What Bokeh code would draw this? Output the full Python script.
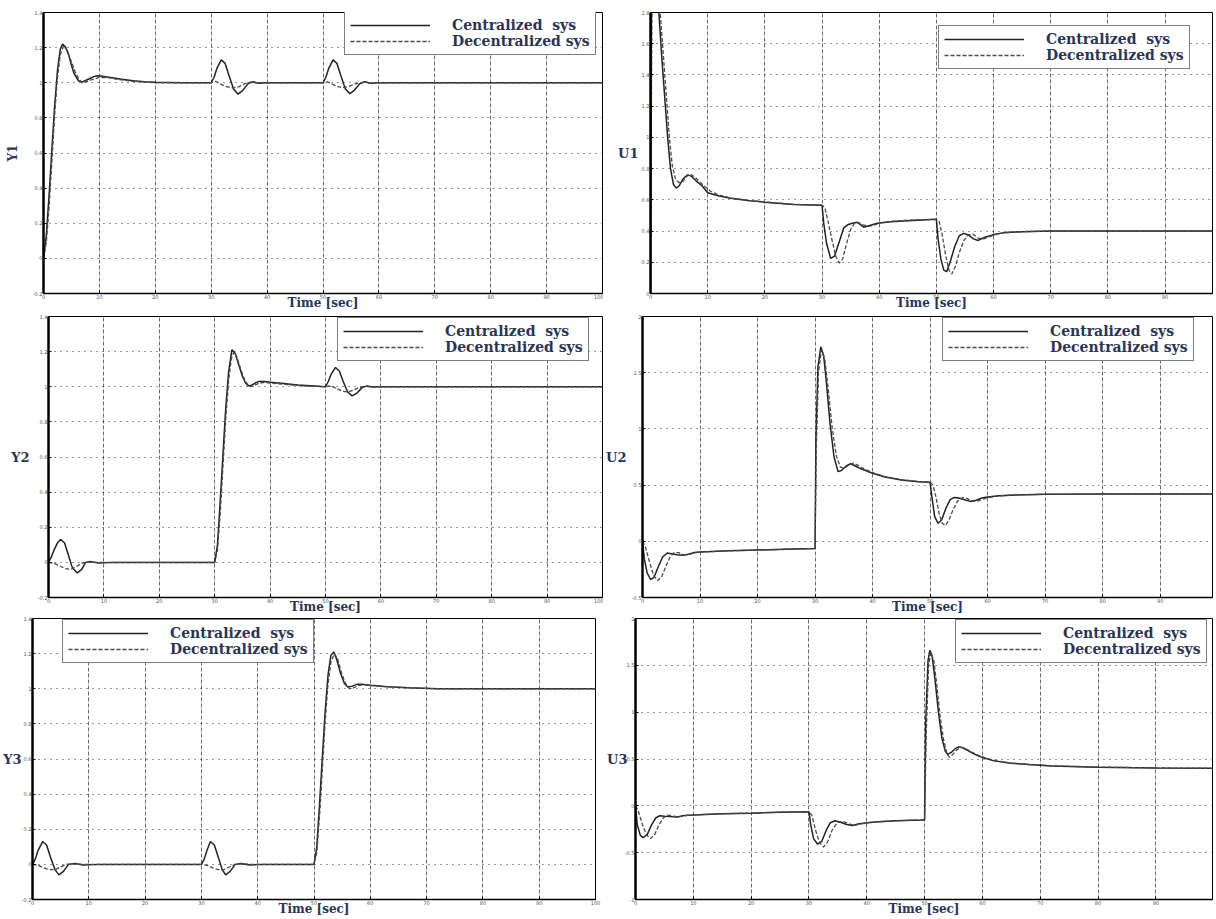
import math
from bokeh.plotting import figure
from bokeh.layouts import column, row
from bokeh.models import FixedTicker, LinearAxis, Legend, LegendItem, Range1d
from bokeh.embed import file_html
from bokeh.resources import INLINE

# ---------------- data ----------------
x_ticks = [0, 10, 20, 30, 40, 50, 60, 70, 80, 90, 100]
x_tick_labels = ["0", "10", "20", "30", "40", "50", "60", "70", "80", "90", "100"]

y_ticks_Y = [-0.2, 0, 0.2, 0.4, 0.6, 0.8, 1, 1.2, 1.4]
y_labels_Y = ["-0.2", "0", "0.2", "0.4", "0.6", "0.8", "1", "1.2", "1.4"]
y_ticks_U1 = [0, 0.2, 0.4, 0.6, 0.8, 1, 1.2, 1.4, 1.6, 1.8]
y_labels_U1 = ["0", "0.2", "0.4", "0.6", "0.8", "1", "1.2", "1.4", "1.6", "1.8"]
y_ticks_U2 = [-0.5, 0, 0.5, 1, 1.5, 2]
y_labels_U2 = ["-0.5", "0", "0.5", "1", "1.5", "2"]
y_ticks_U3 = [-1, -0.5, 0, 0.5, 1, 1.5, 2]
y_labels_U3 = ["-1", "-0.5", "0", "0.5", "1", "1.5", "2"]

legend_labels = ["Centralized  sys", "Decentralized sys"]
time_label = "Time [sec]"
panel_names = ["Y1", "U1", "Y2", "U2", "Y3", "U3"]

# Y1
t_y1_cen = [0, 0.5, 1, 1.5, 2, 2.5, 3, 3.4, 4, 4.5, 5, 5.5, 6.3, 7, 8, 9, 9.6, 10.5, 12, 14, 16, 18, 20, 25, 30,
            30.5, 31, 31.8, 32.5, 33.2, 34, 34.8, 35.6, 36.6, 37.5, 38.5, 40, 50,
            50.5, 51, 51.8, 52.5, 53.2, 54, 54.8, 55.6, 56.6, 57.5, 58.5, 60, 100]
y1_cen = [0, 0.13, 0.36, 0.62, 0.87, 1.07, 1.19, 1.22, 1.2, 1.16, 1.1, 1.05, 1.01, 1.005, 1.02, 1.035, 1.04, 1.037,
          1.03, 1.02, 1.012, 1.006, 1.003, 1.0, 1.0,
          1.03, 1.08, 1.13, 1.11, 1.04, 0.965, 0.935, 0.955, 0.995, 1.006, 0.997, 1.0, 1.0,
          1.03, 1.08, 1.13, 1.11, 1.04, 0.965, 0.938, 0.957, 0.995, 1.006, 0.997, 1.0, 1.0]
t_y1_dec = [0, 0.5, 1, 1.5, 2, 2.5, 3, 3.6, 4.1, 5, 5.8, 6.8, 7.5, 8.5, 10, 11.5, 13, 16, 20, 30,
            30.8, 31.5, 32.5, 33.9, 35, 36, 37, 38, 50,
            50.8, 51.5, 52.5, 53.5, 54.5, 55.5, 56.5, 57.5, 58.5, 60, 100]
y1_dec = [0, 0.09, 0.29, 0.55, 0.82, 1.03, 1.16, 1.21, 1.19, 1.12, 1.05, 1.0, 1.003, 1.016, 1.03, 1.03, 1.02, 1.008,
          1.0, 1.0,
          1.008, 0.995, 0.98, 0.97, 0.978, 0.995, 1.004, 1.0, 1.0,
          1.005, 0.995, 0.98, 0.972, 0.978, 0.99, 1.0, 1.004, 0.998, 1.0, 1.0]

# Y2
t_y2_cen = [0, 0.5, 1, 1.6, 2.2, 2.9, 3.6, 4.3, 5.2, 6, 6.7, 7.5, 9, 12, 30,
            30.5, 31, 31.5, 32, 32.5, 33.1, 33.7, 34.3, 35, 35.6, 36.1, 36.8, 37.5, 38, 39, 40, 42, 45, 48, 50,
            50.5, 51, 51.8, 52.5, 53.2, 54, 54.8, 55.6, 56.6, 57.5, 58.5, 60, 100]
y2_cen = [0, 0.03, 0.07, 0.11, 0.13, 0.11, 0.04, -0.03, -0.06, -0.04, 0.0, 0.005, -0.003, 0.0, 0.0,
          0.1, 0.35, 0.62, 0.88, 1.08, 1.21, 1.19, 1.13, 1.06, 1.02, 1.005, 1.01, 1.025, 1.03, 1.03, 1.025, 1.02,
          1.01, 1.004, 1.0,
          1.03, 1.07, 1.11, 1.09, 1.03, 0.97, 0.948, 0.962, 0.995, 1.005, 0.998, 1.0, 1.0]
t_y2_dec = [0, 1, 2, 3, 4, 5, 6, 7, 8, 30,
            30.5, 31, 31.5, 32, 32.5, 33, 33.5, 34, 34.7, 35.4, 36.2, 37, 38, 39, 40.5, 43, 46, 50,
            51, 52, 53, 54, 55, 56, 57, 58, 100]
y2_dec = [0, -0.005, -0.02, -0.035, -0.04, -0.025, -0.005, 0.003, 0.0, 0.0,
          0.07, 0.28, 0.55, 0.82, 1.03, 1.16, 1.2, 1.17, 1.1, 1.04, 1.0, 1.005, 1.02, 1.025, 1.02, 1.012, 1.005, 1.0,
          1.005, 0.99, 0.975, 0.97, 0.98, 0.995, 1.003, 1.0, 1.0]

# Y3
t_y3_cen = [0, 0.5, 1, 1.8, 2.5, 3.2, 4, 4.7, 5.5, 6.4, 7.5, 9, 12, 30,
            30.5, 31, 31.6, 32.3, 33, 33.7, 34.3, 35.1, 36, 37, 38.5, 41, 50,
            50.5, 51, 51.5, 52, 52.5, 53, 53.5, 54, 54.7, 55.4, 56, 56.8, 57.6, 58.5, 60, 63, 67, 72, 100]
y3_cen = [0, 0.03, 0.08, 0.13, 0.11, 0.04, -0.03, -0.06, -0.04, 0.0, 0.005, -0.003, 0.0, 0.0,
          0.03, 0.08, 0.13, 0.11, 0.04, -0.03, -0.06, -0.04, 0.0, 0.005, -0.003, 0.0, 0.0,
          0.1, 0.35, 0.62, 0.88, 1.08, 1.19, 1.21, 1.17, 1.09, 1.03, 1.01, 1.015, 1.025, 1.025, 1.02, 1.012, 1.005,
          1.0, 1.0]
t_y3_dec = [0, 1, 2, 3, 4, 5, 6, 7, 9, 30, 31, 32, 33, 34, 35, 36, 37, 39, 50,
            50.5, 51, 51.5, 52, 52.5, 53, 53.6, 54.2, 54.9, 55.6, 56.3, 57, 58, 59, 61, 64, 68, 72, 100]
y3_dec = [0, -0.005, -0.02, -0.03, -0.03, -0.015, 0.0, 0.003, 0.0, 0.0, -0.005, -0.02, -0.03, -0.03, -0.015, 0.0,
          0.003, 0.0, 0.0,
          0.07, 0.28, 0.55, 0.82, 1.03, 1.15, 1.2, 1.17, 1.09, 1.03, 1.0, 1.005, 1.02, 1.022, 1.016, 1.01, 1.003,
          1.0, 1.0]

# U1
t_u1_cen = [0, 0.2, 1, 1.5, 2, 2.5, 3, 3.5, 4, 4.5, 5, 5.7, 6.5, 7.2, 8, 9, 10, 12, 14, 17, 20, 25, 30,
            30.3, 30.8, 31.5, 32.2, 33, 33.8, 34.5, 35.3, 36.2, 37.3, 38.3, 39.7, 42, 46.7, 50,
            50.3, 50.8, 51.3, 51.8, 52.4, 53.2, 54, 54.8, 55.6, 56.5, 57.3, 58.5, 60.3, 62, 65, 70, 100]
u1_cen = [0, 2.3, 2.0, 1.78, 1.5, 1.25, 1.0, 0.8, 0.7, 0.675, 0.69, 0.735, 0.76, 0.75, 0.72, 0.69, 0.645, 0.625,
          0.61, 0.595, 0.585, 0.57, 0.565,
          0.45, 0.32, 0.225, 0.24, 0.33, 0.42, 0.44, 0.45, 0.456, 0.425, 0.435, 0.45, 0.46, 0.47, 0.475,
          0.35, 0.22, 0.15, 0.14, 0.2, 0.3, 0.37, 0.385, 0.375, 0.35, 0.34, 0.36, 0.38, 0.39, 0.395, 0.4, 0.4]
t_u1_dec = [0, 0.3, 1.2, 1.8, 2.3, 2.8, 3.3, 3.8, 4.4, 5, 5.7, 6.3, 7, 7.8, 8.6, 9.5, 10.5, 12, 14, 17, 20, 25, 30,
            30.5, 31, 31.7, 32.4, 33, 33.6, 34.3, 35, 35.7, 36.4, 37.2, 38.2, 39.2, 40.5, 43, 46, 50,
            50.5, 51, 51.6, 52.2, 52.7, 53.3, 54, 54.8, 55.6, 56.4, 57.3, 58.3, 59.3, 61, 63, 66, 70, 100]
u1_dec = [0, 2.2, 2.0, 1.75, 1.5, 1.25, 1.0, 0.82, 0.73, 0.71, 0.72, 0.75, 0.765, 0.745, 0.715, 0.685, 0.655, 0.63,
          0.612, 0.597, 0.586, 0.571, 0.566,
          0.55, 0.47, 0.35, 0.24, 0.195, 0.22, 0.32, 0.41, 0.45, 0.455, 0.44, 0.43, 0.44, 0.455, 0.465, 0.472, 0.475,
          0.46, 0.38, 0.25, 0.15, 0.125, 0.17, 0.26, 0.34, 0.375, 0.38, 0.355, 0.35, 0.365, 0.385, 0.392, 0.397,
          0.4, 0.4]

# U2
t_u2_cen = [0, 0.3, 0.8, 1.4, 2, 2.8, 3.5, 4.3, 5, 6, 7, 8, 9, 10, 15, 20, 25, 30,
            30.15, 30.5, 31, 31.5, 32, 32.6, 33.3, 34, 34.6, 35.4, 36.2, 37, 38, 40, 42, 45, 48, 50,
            50.3, 50.8, 51.4, 52, 52.8, 53.5, 54.2, 55, 56, 57, 58, 59, 60, 62, 65, 70, 80, 100]
u2_cen = [0, -0.15, -0.28, -0.34, -0.32, -0.22, -0.14, -0.105, -0.11, -0.12, -0.125, -0.115, -0.1, -0.095, -0.085,
          -0.078, -0.07, -0.065,
          0.9, 1.55, 1.73, 1.65, 1.4, 1.05, 0.75, 0.62, 0.63, 0.67, 0.69, 0.67, 0.645, 0.605, 0.575, 0.545, 0.53,
          0.525,
          0.4, 0.22, 0.16, 0.19, 0.3, 0.37, 0.39, 0.385, 0.37, 0.355, 0.365, 0.385, 0.395, 0.405, 0.412, 0.418,
          0.42, 0.42]
t_u2_dec = [0, 0.5, 1.2, 1.9, 2.6, 3.3, 4, 4.8, 5.5, 6.3, 7.2, 8.2, 9.2, 10.5, 15, 20, 25, 30,
            30.2, 30.6, 31.1, 31.7, 32.3, 33, 33.7, 34.4, 35.1, 35.9, 36.7, 37.5, 38.5, 40, 42, 45, 48, 50,
            50.5, 51, 51.6, 52.1, 52.6, 53.2, 54, 54.8, 55.7, 56.5, 57.4, 58.4, 59.5, 61, 63, 66, 70, 100]
u2_dec = [0, -0.05, -0.18, -0.3, -0.35, -0.32, -0.23, -0.14, -0.1, -0.1, -0.12, -0.115, -0.1, -0.095, -0.085,
          -0.078, -0.07, -0.065,
          0.8, 1.5, 1.7, 1.62, 1.35, 1.0, 0.76, 0.66, 0.65, 0.68, 0.695, 0.675, 0.645, 0.61, 0.578, 0.548, 0.532,
          0.527,
          0.5, 0.4, 0.24, 0.16, 0.14, 0.18, 0.28, 0.36, 0.39, 0.38, 0.355, 0.36, 0.38, 0.398, 0.408, 0.414, 0.418,
          0.42]

# U3
t_u3_cen = [0, 0.3, 0.8, 1.3, 2, 2.8, 3.5, 4.2, 5, 6, 7.2, 8.2, 9, 10, 15, 20, 25, 30,
            30.3, 30.8, 31.5, 32.2, 33, 33.7, 34.5, 35.5, 36.5, 37.5, 38.5, 40, 42, 45, 48, 50,
            50.2, 50.6, 50.9, 51.3, 51.8, 52.4, 53, 53.6, 54, 54.6, 55.3, 55.9, 56.6, 57.5, 58.5, 60, 62, 65, 68, 72,
            80, 90, 100]
u3_cen = [0, -0.2, -0.31, -0.34, -0.31, -0.2, -0.13, -0.105, -0.11, -0.115, -0.12, -0.105, -0.1, -0.098, -0.085,
          -0.078, -0.068, -0.062,
          -0.2, -0.35, -0.41, -0.38, -0.26, -0.18, -0.16, -0.175, -0.2, -0.21, -0.195, -0.18, -0.17, -0.16, -0.153,
          -0.15,
          0.9, 1.55, 1.66, 1.6, 1.35, 1.0, 0.72, 0.58, 0.55, 0.57, 0.61, 0.63, 0.62, 0.59, 0.555, 0.515, 0.48, 0.455,
          0.44, 0.425, 0.413, 0.405, 0.4]
t_u3_dec = [0, 0.5, 1.2, 1.9, 2.6, 3.3, 4, 4.8, 5.5, 6.3, 7.2, 8.2, 9.2, 10.5, 15, 20, 25, 30,
            30.5, 31.1, 31.8, 32.5, 33.2, 34, 34.9, 35.8, 36.8, 37.8, 38.8, 40.3, 42.5, 45, 48, 50,
            50.3, 50.7, 51.1, 51.6, 52.1, 52.7, 53.3, 53.9, 54.3, 54.9, 55.6, 56.3, 57, 58, 59, 60.5, 62.5, 65, 68, 72,
            80, 90, 100]
u3_dec = [0, -0.06, -0.2, -0.31, -0.35, -0.31, -0.21, -0.13, -0.1, -0.105, -0.12, -0.11, -0.1, -0.097, -0.085,
          -0.077, -0.068, -0.062,
          -0.1, -0.25, -0.39, -0.44, -0.39, -0.26, -0.18, -0.165, -0.19, -0.21, -0.195, -0.18, -0.168, -0.16,
          -0.153, -0.15,
          0.8, 1.5, 1.64, 1.55, 1.3, 0.95, 0.7, 0.55, 0.52, 0.55, 0.6, 0.625, 0.615, 0.58, 0.548, 0.512, 0.48,
          0.457, 0.442, 0.427, 0.414, 0.405, 0.4]

# ---------------- layout (page pixels; Bokeh's page has no body margin) ----------------
COL_X = [0, 603, 1214]
ROW_Y = [0, 312, 616, 918]
LEG_H = 47

FONT = "DejaVu Serif"
LABEL_COLOR = "#2b3553"
HAS_ORIENT = "axis_label_orientation" in LinearAxis.properties()

panels = [
    dict(name="Y1", col=0, row=0, frame=(43, 10, 602, 297), xend=100, yr=(-0.2, 1.4),
         yt=y_ticks_Y, yl=y_labels_Y, tc=t_y1_cen, vc=y1_cen, td=t_y1_dec, vd=y1_dec,
         ylab=(133, True, 10), tlab=331, leg=(344, 12)),
    dict(name="U1", col=1, row=0, frame=(650, 12, 1212, 297), xend=98.3, yr=(0, 1.8),
         yt=y_ticks_U1, yl=y_labels_U1, tc=t_u1_cen, vc=u1_cen, td=t_u1_dec, vd=u1_dec,
         ylab=(127, False, 0), tlab=946, leg=(938, 26)),
    dict(name="Y2", col=0, row=1, frame=(48, 316, 602, 601), xend=100, yr=(-0.2, 1.4),
         yt=y_ticks_Y, yl=y_labels_Y, tc=t_y2_cen, vc=y2_cen, td=t_y2_dec, vd=y2_dec,
         ylab=(438, False, 5), tlab=331, leg=(337, 318)),
    dict(name="U2", col=1, row=1, frame=(637, 313, 1212, 601), xend=99.1, yr=(-0.5, 2),
         yt=y_ticks_U2, yl=y_labels_U2, tc=t_u2_cen, vc=u2_cen, td=t_u2_dec, vd=u2_dec,
         ylab=(440, False, 2), tlab=940, leg=(937, 318)),
    dict(name="Y3", col=0, row=2, frame=(32, 618, 595, 903), xend=100, yr=(-0.2, 1.4),
         yt=y_ticks_Y, yl=y_labels_Y, tc=t_y3_cen, vc=y3_cen, td=t_y3_dec, vd=y3_dec,
         ylab=(742, False, -3), tlab=330, leg=(62, 620)),
    dict(name="U3", col=1, row=2, frame=(635, 618, 1212, 903), xend=99.8, yr=(-1, 2),
         yt=y_ticks_U3, yl=y_labels_U3, tc=t_u3_cen, vc=u3_cen, td=t_u3_dec, vd=u3_dec,
         ylab=(742, False, -6), tlab=943, leg=(955, 620)),
]


def make_panel(s):
    fx0, fy0, fx1, fy1 = s["frame"]
    cx0, cx1 = COL_X[s["col"]], COL_X[s["col"] + 1]
    ry0, ry1 = ROW_Y[s["row"]], ROW_Y[s["row"] + 1]
    y0, y1 = s["yr"]
    xend = s["xend"]
    p = figure(width=cx1 - cx0, height=ry1 - ry0,
               x_range=Range1d(0, xend), y_range=Range1d(y0, y1),
               toolbar_location=None, output_backend="svg",
               min_border_left=fx0 - cx0, min_border_right=cx1 - fx1,
               min_border_top=fy0 - ry0, min_border_bottom=ry1 - fy1)
    p.background_fill_color = "white"
    p.border_fill_color = "white"
    p.outline_line_color = "black"
    p.outline_line_width = 1

    def dx(px):
        return (px - fx0) / (fx1 - fx0) * xend

    def dy(py):
        return y1 - (py - fy0) / (fy1 - fy0) * (y1 - y0)

    xt = FixedTicker(ticks=x_ticks, minor_ticks=[])
    yt = FixedTicker(ticks=s["yt"], minor_ticks=[])
    p.xaxis.ticker = xt
    p.xaxis.major_label_overrides = dict(zip(x_ticks, x_tick_labels))
    p.yaxis.ticker = yt
    p.yaxis.major_label_overrides = dict(zip(s["yt"], s["yl"]))
    for ax in list(p.xaxis) + list(p.yaxis):
        ax.major_tick_in = 3
        ax.major_tick_out = 0
        ax.minor_tick_line_color = None
        ax.major_label_text_font = "DejaVu Sans"
        ax.major_label_text_font_size = "5px"
        ax.major_label_text_color = "#555555"
        ax.major_label_standoff = 1
        ax.axis_line_color = "black"
    p.yaxis.axis_line_width = 2.5
    p.xaxis.axis_line_width = 1.5

    # y-axis title (label-only axis, centred where the reference places it)
    ly, rot, stand = s["ylab"]
    yc = dy(ly)
    hh = (y1 - y0) * 0.02
    yl_ax = LinearAxis(ticker=FixedTicker(ticks=[]), axis_line_color=None, major_tick_line_color=None,
                       minor_tick_line_color=None, bounds=(yc - hh, yc + hh),
                       axis_label=s["name"], axis_label_text_font=FONT, axis_label_text_font_style="bold",
                       axis_label_text_font_size="12px" if rot else "13px",
                       axis_label_text_color=LABEL_COLOR, axis_label_standoff=stand)
    if not rot and HAS_ORIENT:
        yl_ax.axis_label_orientation = "horizontal"
    p.add_layout(yl_ax, "left")

    # x-axis title "Time [sec]"
    xc = dx(s["tlab"])
    tl_ax = LinearAxis(ticker=FixedTicker(ticks=[]), axis_line_color=None, major_tick_line_color=None,
                       minor_tick_line_color=None, bounds=(xc - 1, xc + 1),
                       axis_label=time_label, axis_label_text_font=FONT, axis_label_text_font_style="bold",
                       axis_label_text_font_size="12px", axis_label_text_color=LABEL_COLOR,
                       axis_label_standoff=-6)
    p.add_layout(tl_ax, "below")

    p.xgrid.ticker = xt
    p.ygrid.ticker = yt
    p.xgrid.grid_line_color = "#444444"
    p.xgrid.grid_line_dash = "4 2"
    p.xgrid.grid_line_width = 0.8
    p.ygrid.grid_line_color = "#333333"
    p.ygrid.grid_line_dash = "1 5"
    p.ygrid.grid_line_width = 1

    rc = p.line(s["tc"], s["vc"], line_color="#222222", line_width=1.5)
    rd = p.line(s["td"], s["vd"], line_color="#4a4a4a", line_width=1.3, line_dash="4 2")

    lx, ltop = s["leg"]
    legend = Legend(items=[LegendItem(label=legend_labels[0], renderers=[rc]),
                           LegendItem(label=legend_labels[1], renderers=[rd])],
                    location=(lx - fx0, fy1 - (ltop + LEG_H)),
                    label_text_font=FONT, label_text_font_style="bold", label_text_font_size="14px",
                    label_text_color=LABEL_COLOR, glyph_width=80, glyph_height=10, label_height=15,
                    label_standoff=22, padding=5, spacing=0, margin=0,
                    border_line_color="black", border_line_width=1.3,
                    background_fill_color="white", background_fill_alpha=1)
    p.add_layout(legend)
    return p


figs = [make_panel(s) for s in panels]
layout = column(row(figs[0], figs[1]), row(figs[2], figs[3]), row(figs[4], figs[5]))

open("out.html", "w").write(file_html(layout, INLINE))
